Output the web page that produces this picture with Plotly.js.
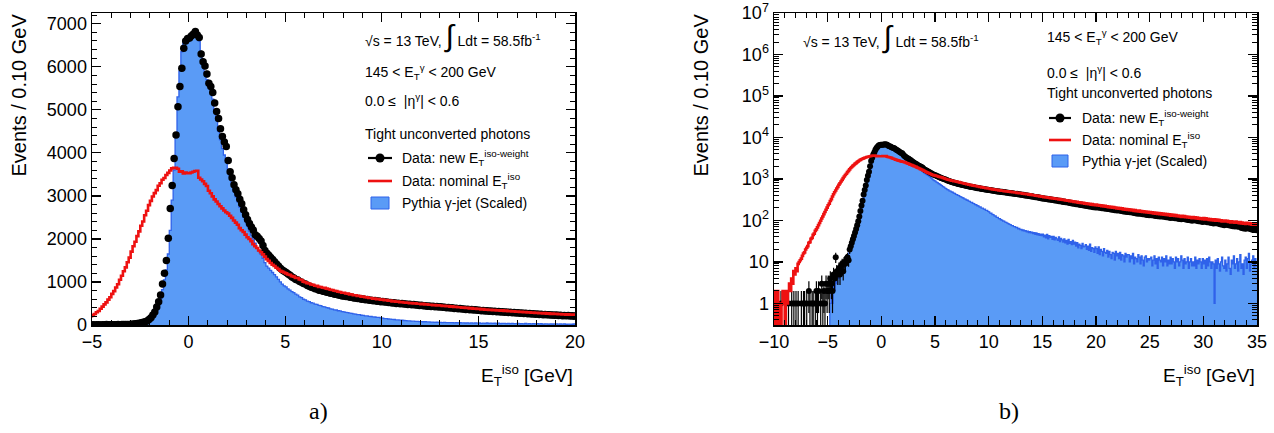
<!DOCTYPE html>
<html>
<head>
<meta charset="utf-8">
<script src="https://cdn.plot.ly/plotly-3.0.1.min.js"></script>
<style>html,body{margin:0;padding:0;background:#fff;}#chart{width:1274px;height:433px;}</style>
</head>
<body>
<div id="chart"></div>
<script>
// Histogram binning: 0.10 GeV bins from -10 to 35 GeV
const binLow = -10;
const binWidth = 0.1;

// Data: nominal E_T^iso (red step line), one row per GeV
const nominalData = [
  2,0,1,2,0,1,0,1,2,1,
  0,2,1,2,3,2,4,3,6,5,
  7,6,9,10,11,12,14,16,17,20,
  22,24,29,30,36,38,45,48,56,61,
  68,77,87,98,111,125,142,160,181,204,
  232,255,295,327,378,428,480,525,590,646,
  724,786,872,948,1050,1146,1248,1338,1458,1565,
  1705,1830,1935,2065,2175,2305,2405,2550,2655,2785,
  2885,2985,3065,3135,3235,3295,3375,3415,3485,3535,
  3590,3640,3655,3650,3630,3560,3570,3520,3540,3530,
  3530,3545,3560,3580,3585,3420,3380,3340,3280,3230,
  3120,3060,2990,2920,2870,2810,2760,2710,2660,2620,
  2590,2540,2490,2430,2380,2330,2250,2200,2160,2100,
  2040,2000,1950,1880,1830,1790,1730,1690,1640,1590,
  1530,1490,1440,1400,1370,1330,1300,1260,1240,1220,
  1200,1175,1165,1135,1125,1095,1092,1058,1045,1008,
  995,972,963,940,934,912,908,886,883,866,
  862,846,838,818,813,797,791,772,768,751,
  748,731,728,711,708,692,690,676,675,660,
  659,644,643,628,627,612,613,600,601,588,
  589,576,579,562,566,550,557,541,545,531,
  535,523,519,518,509,511,501,503,494,495,
  486,490,478,480,470,471,462,466,454,456,
  452,443,446,436,438,428,433,420,424,411,
  414,404,405,396,399,387,391,379,383,371,
  375,364,368,358,361,351,356,345,350,340,
  344,333,339,328,333,322,327,316,321,310,
  314,303,308,298,303,292,297,286,291,281,
  285,274,280,269,275,264,270,259,265,254,
  260,250,255,246,251,241,247,237,243,234,
  240,229,236,226,232,222,229,218,225,214,
  220,210,216,206,213,202,209,199,205,195,
  201,192,198,188,195,185,192,182,189,179,
  186,176,183,173,180,170,177,168,174,165,
  172,163,169,160,166,157,164,155,161,153,
  159,151,157,148,155,146,152,144,150,142,
  148,140,146,138,144,135,142,133,140,131,
  138,130,136,128,134,126,132,124,130,122,
  129,121,127,119,125,118,123,116,121,114,
  121,113,119,112,117,110,115,108,113,107,
  114,106,112,105,110,103,108,101,106,100,
  107,99,105,98,103,97,101,95,99,94,
  100,94,98,92,96,90,95,89,93,88,
  94,88,92,86,91,85,89,83,87,82,
  88,83,86,81,85,79,84,78,82,77
];

// Data: new E_T^iso-weight (black points)
const newData = [
  0,0,0,0,0,0,1,0,0,0,
  0,0,0,1,0,0,1,0,1,0,
  1,0,1,0,0,1,0,1,1,0,
  1,0,2,1,0,1,1,0,1,2,
  1,2,0,1,3,1,2,1,3,2,
  3,2,4,3,2,5,4,13,6,5,
  7,5,8,9,6,10,9,12,13,11,
  20,24,29,35,42,51,62,77,95,125,
  170,230,300,420,540,700,950,1200,1500,2015,
  2710,3240,3870,4415,5073,5540,5965,6430,6600,6660,
  6670,6720,6760,6820,6740,6680,6300,6120,6020,5830,
  5620,5540,5400,5160,4960,4800,4560,4380,4250,4150,
  3820,3560,3420,3260,3140,3050,2920,2820,2680,2560,
  2450,2360,2280,2200,2100,2060,2010,1950,1850,1730,
  1665,1620,1570,1520,1470,1420,1370,1320,1280,1250,
  1220,1185,1155,1118,1095,1055,1045,1008,995,965,
  955,920,900,876,866,840,835,810,806,785,
  780,760,757,735,735,715,714,695,694,676,
  676,660,660,644,645,628,630,614,616,600,
  602,588,590,576,578,564,567,552,556,542,
  545,532,535,522,525,512,516,502,506,494,
  498,486,490,478,482,470,474,462,466,454,
  458,446,450,438,443,432,437,426,430,418,
  422,410,414,402,406,394,398,386,390,378,
  382,370,374,362,367,356,360,348,352,340,
  345,334,339,328,333,322,327,316,321,310,
  315,304,309,298,303,292,297,286,291,280,
  285,275,279,269,273,263,267,257,261,251,
  255,246,250,241,245,236,241,231,235,226,
  231,222,226,217,222,213,218,209,214,205,
  212,206,208,201,205,198,201,194,197,191,
  195,188,190,184,187,180,183,177,180,174,
  179,173,175,169,171,165,168,162,165,159,
  164,158,161,155,157,152,154,148,151,146,
  151,145,147,142,144,139,141,136,138,134,
  139,133,136,131,133,128,131,126,128,124,
  130,124,127,122,124,119,122,117,119,115,
  121,116,118,113,116,111,113,109,111,107,
  113,108,110,105,108,103,105,101,103,99,
  106,101,103,98,101,96,98,94,96,92,
  99,94,96,91,94,89,91,87,89,85,
  91,86,88,84,86,81,84,79,81,77,
  84,79,81,77,79,75,77,72,75,71,
  77,72,70,74,71,66,69,64,67,63,
  70,65,67,62,64,60,66,61,63,58
];

// Pythia gamma-jet (scaled), blue filled histogram
const pythiaMC = [
  0,0,0,0,0,0,0,0,0,0,
  0,0,0,0,0,0,0,0,0,0,
  0,0,0,0,0,0,0,0,0,0,
  0,0,0,0,0,0,0,0,0,0,
  0,0,0,0,0,0,0,0,0,0,
  0,0,1,2,1,3,2,4,3,5,
  4,6,7,6,9,8,11,12,14,16,
  18,23,26,32,38,46,56,68,85,110,
  140,190,260,350,470,620,820,1050,1280,1650,
  2200,2900,3600,4400,5300,5900,6350,6550,6620,6650,
  6680,6720,6780,6790,6760,6600,6300,6050,5850,5700,
  5580,5460,5250,5000,4750,4500,4300,4100,3950,3780,
  3620,3480,3300,3100,2980,2860,2740,2620,2500,2400,
  2300,2180,2090,2000,1900,1800,1720,1640,1550,1450,
  1370,1320,1270,1220,1170,1120,1060,1000,950,910,
  884,838,812,776,754,716,694,655,634,598,
  584,556,543,517,508,486,478,457,448,427,
  421,402,395,377,371,353,348,331,327,311,
  307,292,289,274,271,257,255,241,239,226,
  225,212,211,199,198,187,186,175,175,165,
  161,150,149,139,138,129,128,119,119,111,
  110,104,102,97,96,91,90,86,84,80,
  79,75,75,71,71,67,68,63,64,60,
  61,57,59,55,57,53,55,51,54,50,
  52,48,51,46,50,45,48,44,47,43,
  47,40,44,38,46,36,43,39,41,35,
  41,34,39,36,33,40,31,37,34,30,
  36,29,33,27,35,28,31,26,33,27,
  30,24,29,22,27,25,21,28,23,24,
  26,20,24,19,27,18,22,21,17,23,
  21,16,23,15,20,18,14,21,17,16,
  19,13,18,15,12,17,16,11,18,14,
  16,12,17,11,15,14,10,16,13,15,
  15,10,14,12,16,9,13,12,10,15,
  13,9,14,11,8,13,14,10,12,11,
  12,13,8,11,14,9,12,7,13,11,
  10,13,8,12,10,14,8,11,9,13,
  9,12,10,7,13,10,12,8,10,14,
  11,7,12,9,10,13,7,10,12,8,
  10,8,13,7,11,9,12,10,7,12,
  9,11,7,12,8,13,10,7,10,9,
  1,11,7,12,9,6,10,13,8,7,
  11,6,9,13,7,5,11,9,14,7,
  9,12,6,10,15,7,9,5,11,13,
  7,12,16,6,9,11,14,7,12,8
];

const yTickValsLog = [1,10,100,1000,10000,100000,1000000,10000000];
const yTickTextLog = ['1','10','10<sup>2</sup>','10<sup>3</sup>','10<sup>4</sup>','10<sup>5</sup>','10<sup>6</sup>','10<sup>7</sup>'];

// ---- derived geometry ----
const nBins = pythiaMC.length;
const lowEdges = pythiaMC.map((_, i) => +(binLow + i * binWidth).toFixed(2));
const centers = pythiaMC.map((_, i) => +(binLow + (i + 0.5) * binWidth).toFixed(3));
const stepX = lowEdges.concat([+(binLow + nBins * binWidth).toFixed(2)]);
const stepY = a => a.concat([a[a.length - 1]]);
const logSafe = a => a.map(v => v > 0 ? v : 1e-3);
const nullZero = a => a.map(v => v > 0 ? v : null);

const W = 1274, H = 433;
const px = x => x / W;
const py = y => 1 - y / H;

const BLUE_FILL = '#5a9bf6';
const BLUE_LINE = '#2f62ea';
const RED = '#ee1111';
const FONT = 'Liberation Sans, Arial, Helvetica, sans-serif';

function traces(xa, ya, isLog) {
  const b = isLog ? logSafe(pythiaMC) : pythiaMC;
  const r = isLog ? logSafe(nominalData) : nominalData;
  const k = isLog ? nullZero(newData) : newData;
  return [
    {x: stepX, y: stepY(b), xaxis: xa, yaxis: ya, type: 'scatter', mode: 'lines',
     line: {shape: 'hv', color: BLUE_LINE, width: 1.3}, fill: 'tozeroy', fillcolor: BLUE_FILL,
     name: 'Pythia γ-jet (Scaled)', hoverinfo: 'skip'},
    {x: centers, y: k, xaxis: xa, yaxis: ya, type: 'scatter', mode: 'markers',
     marker: {color: 'black', size: isLog ? 6 : 7.5},
     error_y: {type: 'sqrt', visible: true, color: 'black', thickness: 1.2, width: 0},
     name: 'Data: new', hoverinfo: 'skip'},
    {x: stepX, y: stepY(r), xaxis: xa, yaxis: ya, type: 'scatter', mode: 'lines',
     line: {shape: 'hv', color: RED, width: 2.6}, name: 'Data: nominal', hoverinfo: 'skip'}
  ];
}

const data = traces('x', 'y', false).concat(traces('x2', 'y2', true));

const axisCommon = {
  showline: true, linecolor: 'black', linewidth: 1.5, mirror: 'ticks',
  ticks: 'inside', ticklen: 9, tickwidth: 1.2, tickcolor: 'black',
  showgrid: false, zeroline: false,
  tickfont: {family: FONT, size: 18, color: 'black'}
};

const yDom = [py(325), py(13)];

const layout = {
  width: W, height: H, autosize: false,
  margin: {l: 0, r: 0, t: 0, b: 0},
  paper_bgcolor: 'white', plot_bgcolor: 'white',
  showlegend: false,
  font: {family: FONT, size: 14, color: 'black'},
  xaxis: Object.assign({}, axisCommon, {domain: [px(92), px(575)], range: [-5, 20], anchor: 'y',
    tick0: 0, dtick: 5, minor: {ticks: 'inside', ticklen: 5, tickwidth: 1, tickcolor: 'black', dtick: 1, showgrid: false}}),
  yaxis: Object.assign({}, axisCommon, {domain: yDom, range: [0, 7250], anchor: 'x',
    tick0: 0, dtick: 1000, tickformat: 'd',
    minor: {ticks: 'inside', ticklen: 5, tickwidth: 1, tickcolor: 'black', dtick: 200, showgrid: false}}),
  xaxis2: Object.assign({}, axisCommon, {domain: [px(774), px(1257)], range: [-10, 35], anchor: 'y2',
    tick0: 0, dtick: 5, minor: {ticks: 'inside', ticklen: 5, tickwidth: 1, tickcolor: 'black', dtick: 1, showgrid: false}}),
  yaxis2: Object.assign({}, axisCommon, {domain: yDom, type: 'log', range: [-0.52, 7], anchor: 'x2',
    tickmode: 'array', tickvals: yTickValsLog, ticktext: yTickTextLog,
    minor: {ticks: 'inside', ticklen: 5, tickwidth: 1, tickcolor: 'black', dtick: 'D1', showgrid: false}}),
  annotations: [],
  shapes: []
};

function txt(x, y, text, opts) {
  layout.annotations.push(Object.assign({
    xref: 'paper', yref: 'paper', x: px(x), y: py(y), text: text, showarrow: false,
    xanchor: 'left', yanchor: 'middle', font: {family: FONT, size: 14, color: 'black'}
  }, opts || {}));
}

const lumiText = '√s = 13 TeV, <span style="font-size:30px">∫</span> Ldt = 58.5fb<sup>-1</sup>';
const etText = '145 < E<sub>T</sub><sup>γ</sup> < 200 GeV';
const etaText = '0.0 ≤  |η<sup>γ</sup>| < 0.6';
const selText = 'Tight unconverted photons';
const legNew = 'Data: new E<sub>T</sub><sup>iso-weight</sup>';
const legNom = 'Data: nominal E<sub>T</sub><sup>iso</sup>';
const legMC = 'Pythia γ-jet (Scaled)';
const yTitle = 'Events / 0.10 GeV';
const xTitle = 'E<sub>T</sub><sup>iso</sup> [GeV]';

function legendBlock(sx0, sx1, tx, rows) {
  const cx = (sx0 + sx1) / 2;
  layout.shapes.push({type: 'line', xref: 'paper', yref: 'paper', x0: px(sx0), x1: px(sx1), y0: py(rows[0]), y1: py(rows[0]), line: {color: 'black', width: 2.2}});
  layout.shapes.push({type: 'circle', xref: 'paper', yref: 'paper', x0: px(cx - 4.5), x1: px(cx + 4.5), y0: py(rows[0] + 4.5), y1: py(rows[0] - 4.5), fillcolor: 'black', line: {color: 'black', width: 0}});
  layout.shapes.push({type: 'line', xref: 'paper', yref: 'paper', x0: px(sx0), x1: px(sx1), y0: py(rows[1]), y1: py(rows[1]), line: {color: RED, width: 2.6}});
  layout.shapes.push({type: 'rect', xref: 'paper', yref: 'paper', x0: px(sx0 + 3), x1: px(sx1 - 3), y0: py(rows[2] + 6), y1: py(rows[2] - 6), fillcolor: BLUE_FILL, line: {color: BLUE_LINE, width: 1}});
  txt(tx, rows[0], legNew);
  txt(tx, rows[1], legNom);
  txt(tx, rows[2], legMC);
}

// Left panel labels
txt(363, 36, lumiText);
txt(363, 72, etText);
txt(363, 100, etaText);
txt(363, 134, selText);
legendBlock(368, 392, 400, [158, 181, 203]);

// Right panel labels
txt(801, 37, lumiText);
txt(1045, 37, etText);
txt(1045, 72, etaText);
txt(1045, 93, selText);
legendBlock(1049, 1071, 1080, [118, 140, 161]);

// Axis titles
[[18, 12], [700, 12]].forEach(p => {
  layout.annotations.push({xref: 'paper', yref: 'paper', x: px(p[0]), y: py(p[1]), text: yTitle, showarrow: false,
    textangle: -90, xanchor: 'center', yanchor: 'top', font: {family: FONT, size: 20, color: 'black'}});
});
[575, 1257].forEach(xr => {
  layout.annotations.push({xref: 'paper', yref: 'paper', x: px(xr), y: py(375), text: xTitle, showarrow: false,
    xanchor: 'right', yanchor: 'middle', font: {family: FONT, size: 19, color: 'black'}});
});

// Panel captions
txt(318, 411, 'a)', {xanchor: 'center', font: {family: 'Liberation Serif, DejaVu Serif, serif', size: 24, color: 'black'}});
txt(1009, 411, 'b)', {xanchor: 'center', font: {family: 'Liberation Serif, DejaVu Serif, serif', size: 24, color: 'black'}});

Plotly.newPlot('chart', data, layout, {staticPlot: true, displayModeBar: false});
</script>
</body>
</html>
